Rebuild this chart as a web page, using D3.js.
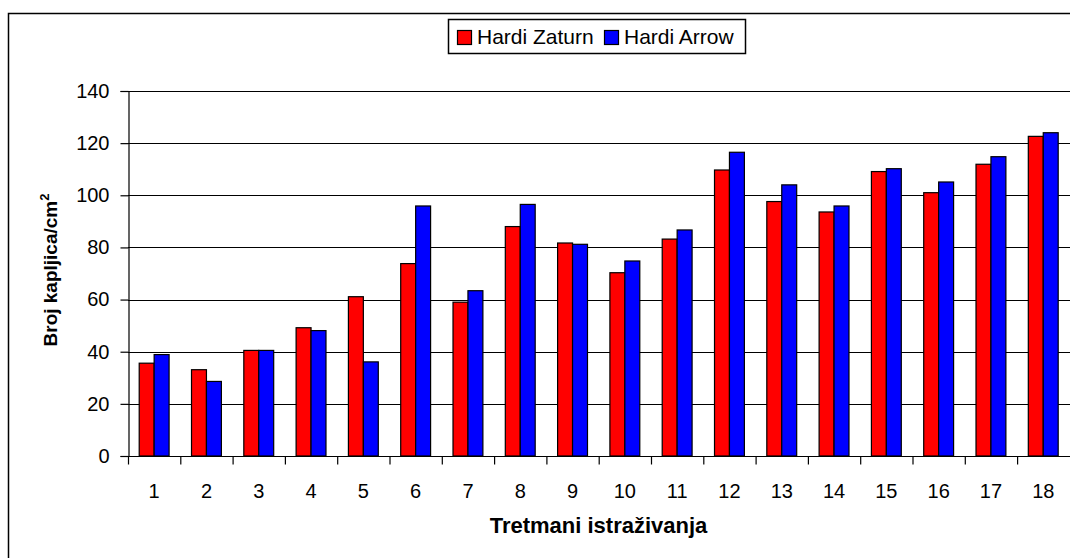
<!DOCTYPE html>
<html>
<head>
<meta charset="utf-8">
<script src="https://cdn.jsdelivr.net/npm/d3@7/dist/d3.min.js"></script>
<style>
  html, body { margin: 0; padding: 0; background: #fff; }
  svg { display: block; font-family: "Liberation Sans", Arial, sans-serif; }
</style>
</head>
<body>
<svg id="chart" width="1070" height="558"></svg>
<script>
// Treatments 1..18 and droplet counts per cm² for the two nozzles
const categories = ["1","2","3","4","5","6","7","8","9","10","11","12","13","14","15","16","17","18"];
const seriesNames = ["Hardi Zaturn", "Hardi Arrow"];
const zaturn = [35.6, 33.1, 40.5, 49.2, 61.1, 73.8, 59.0, 88.0, 81.7, 70.3, 83.2, 109.7, 97.6, 93.6, 109.1, 101.0, 111.9, 122.6];
const arrow  = [38.9, 28.6, 40.5, 48.1, 36.1, 95.9, 63.4, 96.5, 81.2, 74.8, 86.7, 116.5, 104.0, 95.9, 110.2, 105.1, 114.8, 124.0];
const yTicks = [0, 20, 40, 60, 80, 100, 120, 140];
const colors = ["#FF0000", "#0000FF"];

const svg = d3.select("#chart");

const plotLeft = 128, plotRight = 1070, plotTop = 91, plotBottom = 456;

// outer chart border (runs past the right and bottom edges)
svg.append("rect")
  .attr("x", 8.5).attr("y", 13.5)
  .attr("width", 1100).attr("height", 600)
  .attr("fill", "none").attr("stroke", "#000").attr("stroke-width", 1.5);

const x0 = d3.scaleBand().domain(categories).range([plotLeft, plotLeft + 18 * 52.3]).padding(0);
const x1 = d3.scaleBand().domain(seriesNames).range([0, x0.bandwidth()]).paddingInner(0).paddingOuter(0.75);
const y = d3.scaleLinear().domain([0, 140]).range([plotBottom, plotTop]);

// horizontal gridlines
svg.append("g").selectAll("line")
  .data(yTicks.filter(d => d > 0))
  .join("line")
  .attr("x1", plotLeft).attr("x2", plotRight)
  .attr("y1", d => Math.round(y(d)) + 0.5).attr("y2", d => Math.round(y(d)) + 0.5)
  .attr("stroke", "#000").attr("stroke-width", 1.2);

// bars
const rows = categories.map((c, i) => ({ c, vals: [zaturn[i], arrow[i]] }));
const groups = svg.append("g").selectAll("g")
  .data(rows)
  .join("g")
  .attr("transform", d => `translate(${x0(d.c)},0)`);
groups.selectAll("rect")
  .data(d => d.vals.map((v, k) => ({ name: seriesNames[k], v, k })))
  .join("rect")
  .attr("x", d => x1(d.name))
  .attr("y", d => y(d.v))
  .attr("width", x1.bandwidth())
  .attr("height", d => y(0) - y(d.v))
  .attr("fill", d => colors[d.k])
  .attr("stroke", "#000").attr("stroke-width", 1.2);

// y axis
const yAxis = d3.axisLeft(y).tickValues(yTicks).tickSize(8).tickPadding(11);
const gy = svg.append("g").attr("transform", `translate(${plotLeft + 0.5},0)`).call(yAxis);
gy.select(".domain").attr("stroke", "#000").attr("stroke-width", 1.2);
gy.selectAll(".tick line").attr("stroke", "#000").attr("stroke-width", 1.2);
gy.selectAll(".tick text").attr("font-size", 20).attr("fill", "#000")
  .attr("font-family", "Liberation Sans, Arial, sans-serif");

// x axis: ticks at category boundaries, labels centred under groups
const gx = svg.append("g").attr("transform", `translate(0,${plotBottom + 0.5})`);
gx.append("line").attr("x1", plotLeft).attr("x2", plotRight)
  .attr("stroke", "#000").attr("stroke-width", 1.2);
gx.selectAll("line.tk")
  .data(categories)
  .join("line").attr("class", "tk")
  .attr("x1", d => x0(d) + 0.5).attr("x2", d => x0(d) + 0.5)
  .attr("y1", 0).attr("y2", 8)
  .attr("stroke", "#000").attr("stroke-width", 1.2);
gx.selectAll("text")
  .data(categories)
  .join("text")
  .attr("x", d => x0(d) + x0.bandwidth() / 2)
  .attr("y", 41.5)
  .attr("text-anchor", "middle")
  .attr("font-size", 20)
  .text(d => d);

// axis titles
svg.append("text")
  .attr("x", 598.5).attr("y", 533)
  .attr("text-anchor", "middle")
  .attr("font-size", 22).attr("font-weight", "bold")
  .text("Tretmani istraživanja");

const yt = svg.append("text")
  .attr("transform", "translate(57,270) rotate(-90)")
  .attr("text-anchor", "middle")
  .attr("font-size", 19).attr("font-weight", "bold");
yt.append("tspan").text("Broj kapljica/cm");
yt.append("tspan").attr("dy", -8).attr("font-size", 13).text("2");

// legend
const lg = svg.append("g");
lg.append("rect")
  .attr("x", 448.5).attr("y", 19.5).attr("width", 297).attr("height", 34)
  .attr("fill", "#fff").attr("stroke", "#000").attr("stroke-width", 1.5);
const legendX = [457, 604];
seriesNames.forEach((name, k) => {
  lg.append("rect")
    .attr("x", legendX[k] + 0.5).attr("y", 30.5).attr("width", 14).attr("height", 14)
    .attr("fill", colors[k]).attr("stroke", "#000").attr("stroke-width", 1.2);
  lg.append("text")
    .attr("x", legendX[k] + 20).attr("y", 44)
    .attr("font-size", 21)
    .text(name);
});
</script>
</body>
</html>
